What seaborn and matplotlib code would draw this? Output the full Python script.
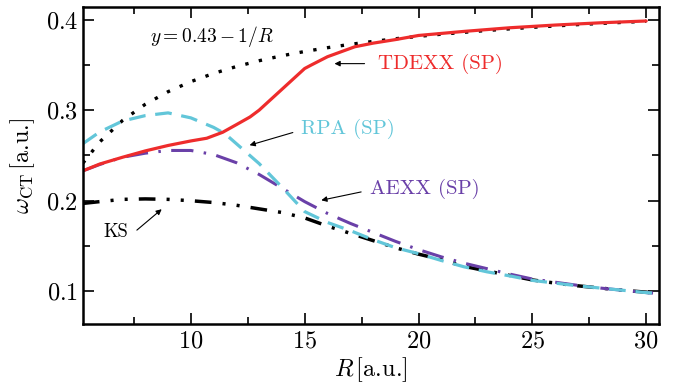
import matplotlib
matplotlib.use('Agg')
import matplotlib.pyplot as plt
from matplotlib.ticker import AutoMinorLocator
import seaborn as sns

# distance R (a.u.) and omega_CT (a.u.)
R = [5.26, 6, 7, 8, 9, 10, 11, 12, 13, 14, 15, 16, 17, 18, 19, 20,
     21, 22, 23, 24, 25, 26, 27, 28, 29, 30, 30.3]

tdexx_R = [5.26, 6, 7, 8, 9, 10, 10.7, 11.4, 12, 12.6, 13, 14, 15, 15.3,
           16, 17.2, 18, 19, 20, 22, 24, 26, 28, 30]
tdexx = [0.233, 0.2405, 0.248, 0.255, 0.261, 0.266, 0.269, 0.2756, 0.284,
         0.2925, 0.300, 0.323, 0.346, 0.350, 0.359, 0.370, 0.374, 0.378,
         0.3825, 0.387, 0.391, 0.394, 0.3965, 0.3985]

rpa_R = [5.26, 6, 7, 8, 9, 10, 11, 11.5, 12, 12.5, 13, 14, 15, 16, 17, 18,
         19, 20, 21, 22, 23, 24, 25, 26, 27, 28, 29, 30, 30.3]
rpa = [0.263, 0.276, 0.288, 0.294, 0.297, 0.2915, 0.281, 0.274, 0.263,
       0.252, 0.241, 0.215, 0.188, 0.176, 0.167, 0.157, 0.148, 0.1415,
       0.134, 0.127, 0.1215, 0.117, 0.112, 0.109, 0.106, 0.1035, 0.101,
       0.0985, 0.098]

aexx = [0.233, 0.240, 0.248, 0.2525, 0.2555, 0.2555, 0.251, 0.242, 0.229,
        0.214, 0.199, 0.186, 0.175, 0.165, 0.155, 0.146, 0.138, 0.131,
        0.125, 0.119, 0.1135, 0.110, 0.1065, 0.1035, 0.101, 0.0985, 0.098]

ks = [0.197, 0.199, 0.2015, 0.202, 0.2015, 0.200, 0.198, 0.195, 0.191,
      0.187, 0.181, 0.172, 0.164, 0.156, 0.148, 0.141, 0.135, 0.1275,
      0.1225, 0.1175, 0.1125, 0.109, 0.106, 0.1035, 0.101, 0.099, 0.098]

asym_R = [5.26, 6, 7, 8, 9, 10, 11, 12, 13, 14, 15, 16, 17, 18, 19, 20,
          21, 22, 23, 24, 25, 26, 27, 28, 29, 30]
asym = [0.2415, 0.265, 0.2886, 0.3065, 0.3204, 0.3315, 0.3406, 0.3482,
        0.3546, 0.3601, 0.3648, 0.369, 0.3727, 0.3759, 0.3789, 0.3815,
        0.3839, 0.386, 0.388, 0.3898, 0.3915, 0.393, 0.3945, 0.3958,
        0.397, 0.3982]

red = '#ee2c2c'
cyan = '#62c6d9'
purple = '#6a40a8'

sns.set_style('ticks')
plt.rcParams['font.family'] = 'serif'
plt.rcParams['font.serif'] = ['cmr10']
plt.rcParams['mathtext.fontset'] = 'cm'
plt.rcParams['axes.formatter.use_mathtext'] = True
plt.rcParams['lines.scale_dashes'] = False
plt.rcParams['axes.edgecolor'] = 'black'
plt.rcParams['axes.labelcolor'] = 'black'
plt.rcParams['xtick.color'] = 'black'
plt.rcParams['ytick.color'] = 'black'
plt.rcParams['text.color'] = 'black'

fig, ax = plt.subplots(figsize=(6.74, 3.86), dpi=100)
fig.subplots_adjust(left=0.123, right=0.978, bottom=0.161, top=0.982)

sns.lineplot(x=asym_R, y=asym, color='black', lw=2.4,
             linestyle=(0, (2.4, 7.6)), ax=ax)
sns.lineplot(x=R, y=ks, color='black', lw=2.5,
             linestyle=(0, (12, 8, 2.2, 8, 2.2, 8)), ax=ax)
sns.lineplot(x=R, y=aexx, color=purple, lw=2.2,
             linestyle=(0, (16, 7.5, 1.8, 7.5)), ax=ax)
sns.lineplot(x=rpa_R, y=rpa, color=cyan, lw=2.3,
             linestyle=(0, (12, 7)), ax=ax)
sns.lineplot(x=tdexx_R, y=tdexx, color=red, lw=2.3, ax=ax)

ax.set_xlim(5.26, 30.57)
ax.set_ylim(0.064, 0.414)
ax.set_xticks([10, 15, 20, 25, 30])
ax.set_yticks([0.1, 0.2, 0.3, 0.4])
ax.xaxis.set_minor_locator(AutoMinorLocator(2))
ax.yaxis.set_minor_locator(AutoMinorLocator(2))
ax.tick_params(which='both', direction='in', top=True, right=True,
               width=1.2, labelsize=17.5, colors='black')
ax.tick_params(which='major', length=8)
ax.tick_params(which='minor', length=5)
ax.tick_params(axis='x', pad=5)
for s in ax.spines.values():
    s.set_linewidth(1.8)
    s.set_color('black')

ax.set_xlabel(r'$R\,$[a.u.]', fontsize=17.5, labelpad=2)
ax.set_ylabel(r'$\omega_{\mathrm{CT}}\,$[a.u.]', fontsize=17.5, labelpad=6)

arrow = dict(arrowstyle='-|>', color='black', lw=0.8,
             mutation_scale=8, shrinkA=0, shrinkB=0)

ax.text(10.92, 0.3816, r'$y = 0.43 - 1/R$', fontsize=14,
        ha='center', va='center')
ax.text(18.2, 0.3507, 'TDEXX (SP)', color=red, fontsize=15,
        ha='left', va='center')
ax.annotate('', xy=(16.31, 0.3514), xytext=(17.63, 0.3514), arrowprops=arrow)
ax.text(14.85, 0.2797, 'RPA (SP)', color=cyan, fontsize=15,
        ha='left', va='center')
ax.annotate('', xy=(12.58, 0.2613), xytext=(14.48, 0.2753), arrowprops=arrow)
ax.text(17.85, 0.2135, 'AEXX (SP)', color=purple, fontsize=15,
        ha='left', va='center')
ax.annotate('', xy=(15.73, 0.2005), xytext=(17.48, 0.2097), arrowprops=arrow)
ax.text(6.69, 0.1656, 'KS', color='black', fontsize=13.5,
        ha='center', va='center')
ax.annotate('', xy=(8.72, 0.1906), xytext=(7.63, 0.1675), arrowprops=arrow)

fig.savefig('out.png', dpi=100)
